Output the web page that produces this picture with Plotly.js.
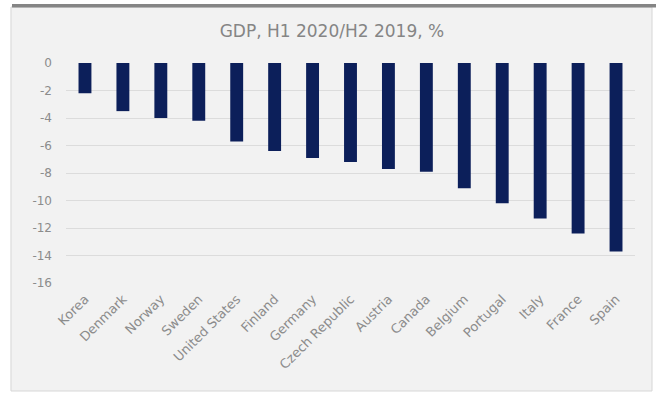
<!DOCTYPE html>
<html>
<head>
<meta charset="utf-8">
<script src="https://cdn.plot.ly/plotly-3.0.1.min.js"></script>
<style>
  html, body { margin: 0; padding: 0; background: #ffffff; }
  #chart { width: 656px; height: 397px; }
</style>
</head>
<body>
<div id="chart"></div>
<script>
const countries = ["Korea", "Denmark", "Norway", "Sweden", "United States", "Finland", "Germany",
  "Czech Republic", "Austria", "Canada", "Belgium", "Portugal", "Italy", "France", "Spain"];
const gdpChange = [-2.2, -3.5, -4.0, -4.2, -5.7, -6.4, -6.9, -7.2, -7.7, -7.9, -9.1, -10.2, -11.3, -12.4, -13.7];
const yTickVals = [0, -2, -4, -6, -8, -10, -12, -14, -16];
const yTickText = yTickVals.map(v => String(v));
const chartTitle = "GDP, H1 2020/H2 2019, %";

const trace = {
  type: "bar",
  x: countries,
  y: gdpChange,
  marker: { color: "#0c1f5a" },
  hoverinfo: "x+y"
};

const layout = {
  width: 656,
  height: 397,
  margin: { l: 66, r: 21, t: 63, b: 114 },
  paper_bgcolor: "#ffffff",
  plot_bgcolor: "rgba(0,0,0,0)",
  bargap: 0.66,
  showlegend: false,
  title: {
    text: chartTitle,
    xref: "container", x: 0.506, xanchor: "center",
    yref: "container", y: 0.922, yanchor: "middle",
    font: { family: "DejaVu Sans", size: 17, color: "#858585" }
  },
  xaxis: {
    type: "category",
    tickangle: -45,
    tickfont: { family: "DejaVu Sans", size: 13, color: "#8c8c8c" },
    showgrid: false,
    zeroline: false,
    showline: false,
    ticks: "",
    ticklabelstandoff: 5
  },
  yaxis: {
    range: [-16, 0],
    tickvals: yTickVals,
    ticktext: yTickText,
    tickfont: { family: "DejaVu Sans", size: 12, color: "#8c8c8c" },
    showgrid: true,
    gridcolor: "#dcdcdc",
    gridwidth: 1,
    zeroline: false,
    showline: false,
    ticks: "",
    ticklabelstandoff: 13
  },
  shapes: [
    {
      type: "rect", xref: "paper", yref: "paper", layer: "below",
      x0: -0.0967, x1: 1.0299, y0: -0.4909, y1: 1.2545,
      fillcolor: "#f2f2f2", line: { color: "#d6d6d6", width: 1 }
    },
    {
      type: "rect", xref: "paper", yref: "paper", layer: "above",
      x0: -0.0949, x1: 1.04, y0: 1.2523, y1: 1.2682,
      fillcolor: "#858585", line: { width: 0 }
    }
  ]
};

Plotly.newPlot("chart", [trace], layout, { staticPlot: true, displayModeBar: false });
</script>
</body>
</html>
